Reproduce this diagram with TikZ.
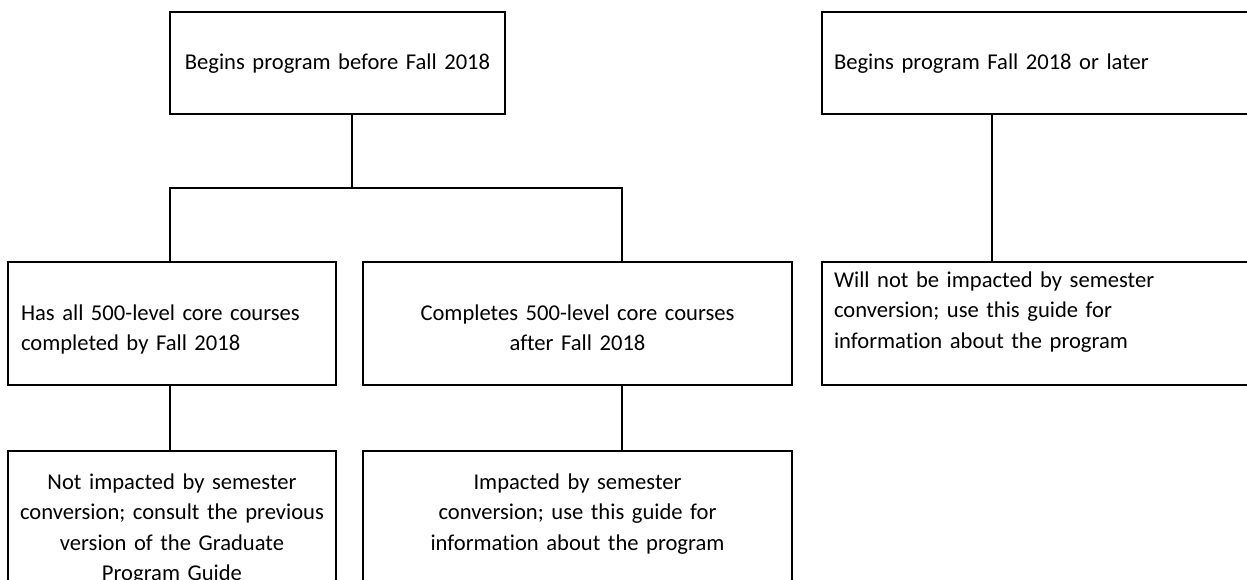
\documentclass[tikz,border=0pt]{standalone}
\usepackage{fontspec}
\setmainfont{Carlito}[Ligatures=NoCommon]
\usepackage{tikz}

\begin{document}
\begin{tikzpicture}[x=1pt,y=-1pt,
  box/.style={draw=black, line width=1.4pt, anchor=north west, inner ysep=0pt, outer sep=0pt,
    font=\fontsize{22.6}{30.5}\selectfont},
  centerbox/.style={box, align=center, inner xsep=0pt},
  leftbox/.style={box, align=left, inner xsep=12pt}]
\useasboundingbox (0,0) rectangle (1247,580);
\clip (0,0) rectangle (1247,580);

\node[centerbox, text width=335pt, text height=58pt, text depth=44pt] (before) at (170,12) {Begins program before Fall 2018};
\node[leftbox, inner xsep=13pt, text width=302pt, text height=58pt, text depth=65pt] (done) at (8,262) {Has all 500-level core courses\\completed by Fall 2018};
\node[centerbox, text width=429pt, text height=58pt, text depth=65pt] (after) at (363,262) {Completes 500-level core courses\\after Fall 2018};
\node[centerbox, text width=328pt, text height=38pt, text depth=130pt] (notimp) at (8,451) {Not impacted by semester\\conversion; consult the previous\\version of the Graduate\\Program Guide};
\node[centerbox, text width=429pt, text height=38pt, text depth=130pt] (imp) at (363,451) {Impacted by semester\\conversion; use this guide for\\information about the program};

\node[leftbox, text width=424pt, text height=58pt, text depth=44pt] (later) at (822,12) {Begins program Fall 2018 or later};
\node[leftbox, text width=424pt, text height=25pt, text depth=98pt] (never) at (822,262) {Will not be impacted by semester\\conversion; use this guide for\\information about the program};

\coordinate (fork) at (352,188);
\coordinate (fork l) at (170,188);
\coordinate (fork r) at (622,188);
\coordinate (fork later) at (992,188);

\draw[line width=1.4pt] (before.south -| fork) -- (fork);
\draw[line width=1.4pt] (done.north -| fork l) |- (fork r) -- (after.north -| fork r);
\draw[line width=1.4pt] (done.south -| fork l) -- (notimp.north -| fork l);
\draw[line width=1.4pt] (after.south -| fork r) -- (imp.north -| fork r);
\draw[line width=1.4pt] (later.south -| fork later) -- (never.north -| fork later);

\end{tikzpicture}
\end{document}
